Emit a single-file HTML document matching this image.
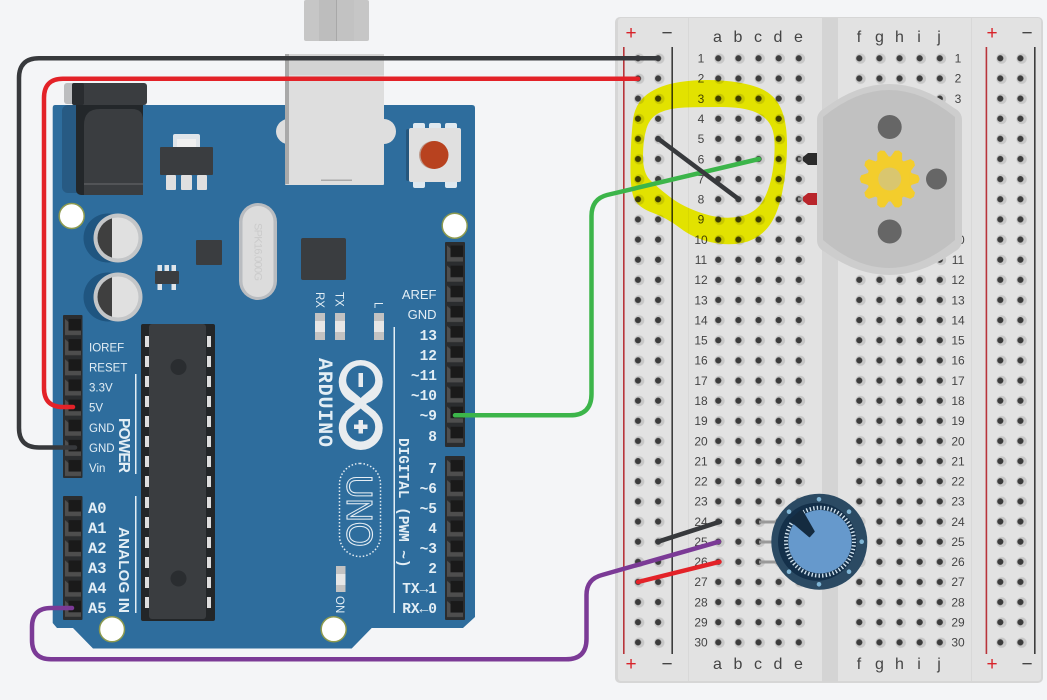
<!DOCTYPE html>
<html><head><meta charset="utf-8"><style>
html,body{margin:0;padding:0;background:#f4f5f7;width:1047px;height:700px;overflow:hidden}
svg{display:block}
.w{fill:none;stroke-linecap:round;stroke-linejoin:round;stroke-width:4.5}
.s{font-family:"Liberation Sans",sans-serif;fill:#e3eef5}
.m{font-family:"Liberation Mono",monospace;font-weight:bold;fill:#e3eef5}
.bb{font-family:"Liberation Sans",sans-serif;fill:#444}
</style></head><body>
<svg width="1047" height="700" viewBox="0 0 1047 700" xmlns="http://www.w3.org/2000/svg">
<defs>
<pattern id="h" width="20.13" height="20.14" patternUnits="userSpaceOnUse"><circle cx="11.2" cy="10.3" r="5.2" fill="#c8c8c8"/><circle cx="10" cy="10" r="3.1" fill="#3c3c3c"/></pattern>
<pattern id="p" width="20" height="20.14" patternUnits="userSpaceOnUse"><polygon points="2,2 5.5,5 5.5,13.5 18,13.5 18,18 2,18" fill="#4e4e4e"/><rect x="5.5" y="2" width="12.5" height="11.5" fill="#1a1a1a"/></pattern>
<polygon id="t" points="20,-6.500 28.500,-3.800 30,0 28.500,3.800 20,6.500" fill="#f3cd2c"/>
</defs>
<rect width="1047" height="700" fill="#f4f5f7"/>

<!-- breadboard -->
<rect x="615" y="17" width="428" height="666" rx="5" fill="#d6d6d6"/>
<rect x="618" y="18" width="423" height="663" rx="3" fill="#e2e2e2"/>
<rect x="688" y="18" width="1" height="663" fill="#d8d8d8"/>
<rect x="971" y="18" width="1" height="663" fill="#d8d8d8"/>
<rect x="822" y="18" width="16" height="664" fill="#d4d4d4"/>
<rect x="623" y="47" width="1.6" height="607" fill="#b8343a"/>
<rect x="671.4" y="47" width="1.6" height="607" fill="#3d3d3d"/>
<rect x="985.6" y="47" width="1.6" height="607" fill="#b8343a"/>
<rect x="1034" y="47" width="1.6" height="607" fill="#3d3d3d"/>
<g transform="translate(628,48.3)"><rect width="40.3" height="604.2" fill="url(#h)"/></g>
<g transform="translate(708.3,48.3)"><rect width="100.7" height="604.2" fill="url(#h)"/></g>
<g transform="translate(849.3,48.3)"><rect width="100.7" height="604.2" fill="url(#h)"/></g>
<g transform="translate(990.3,48.3)"><rect width="40.3" height="604.2" fill="url(#h)"/></g>
<g font-family="Liberation Sans, sans-serif" font-size="19" text-anchor="middle">
<text x="631" y="39" fill="#d8232a">+</text><text x="667" y="39" fill="#444">−</text>
<text x="631" y="670" fill="#d8232a">+</text><text x="667" y="670" fill="#444">−</text>
<text x="992" y="39" fill="#d8232a">+</text><text x="1027" y="39" fill="#444">−</text>
<text x="992" y="670" fill="#d8232a">+</text><text x="1027" y="670" fill="#444">−</text>
</g>
<g class="bb" font-size="16" text-anchor="middle">
<text x="717.5" y="42">a</text><text x="738" y="42">b</text><text x="758" y="42">c</text><text x="778" y="42">d</text><text x="798.5" y="42">e</text>
<text x="859" y="42">f</text><text x="879.5" y="42">g</text><text x="899.5" y="42">h</text><text x="919" y="42">i</text><text x="939" y="42">j</text>
<text x="717.5" y="669">a</text><text x="738" y="669">b</text><text x="758" y="669">c</text><text x="778" y="669">d</text><text x="798.5" y="669">e</text>
<text x="859" y="669">f</text><text x="879.5" y="669">g</text><text x="899.5" y="669">h</text><text x="919" y="669">i</text><text x="939" y="669">j</text>
</g>
<g class="bb" font-size="12" text-anchor="middle">
<text x="701" y="62.6">1</text><text x="701" y="82.7">2</text><text x="701" y="102.9">3</text><text x="701" y="123">4</text><text x="701" y="143.2">5</text><text x="701" y="163.3">6</text><text x="701" y="183.4">7</text><text x="701" y="203.6">8</text><text x="701" y="223.7">9</text><text x="701" y="243.9">10</text><text x="701" y="264">11</text><text x="701" y="284.1">12</text><text x="701" y="304.3">13</text><text x="701" y="324.4">14</text><text x="701" y="344.6">15</text><text x="701" y="364.7">16</text><text x="701" y="384.8">17</text><text x="701" y="405">18</text><text x="701" y="425.1">19</text><text x="701" y="445.3">20</text><text x="701" y="465.4">21</text><text x="701" y="485.5">22</text><text x="701" y="505.7">23</text><text x="701" y="525.8">24</text><text x="701" y="546">25</text><text x="701" y="566.1">26</text><text x="701" y="586.2">27</text><text x="701" y="606.4">28</text><text x="701" y="626.5">29</text><text x="701" y="646.7">30</text>
<text x="958" y="62.6">1</text><text x="958" y="82.7">2</text><text x="958" y="102.9">3</text><text x="958" y="123">4</text><text x="958" y="143.2">5</text><text x="958" y="163.3">6</text><text x="958" y="183.4">7</text><text x="958" y="203.6">8</text><text x="958" y="223.7">9</text><text x="958" y="243.9">10</text><text x="958" y="264">11</text><text x="958" y="284.1">12</text><text x="958" y="304.3">13</text><text x="958" y="324.4">14</text><text x="958" y="344.6">15</text><text x="958" y="364.7">16</text><text x="958" y="384.8">17</text><text x="958" y="405">18</text><text x="958" y="425.1">19</text><text x="958" y="445.3">20</text><text x="958" y="465.4">21</text><text x="958" y="485.5">22</text><text x="958" y="505.7">23</text><text x="958" y="525.8">24</text><text x="958" y="546">25</text><text x="958" y="566.1">26</text><text x="958" y="586.2">27</text><text x="958" y="606.4">28</text><text x="958" y="626.5">29</text><text x="958" y="646.7">30</text>
</g>

<!-- yellow scribble -->
<path style="mix-blend-mode:multiply" fill="#ffff00" fill-rule="evenodd" d="M721.5 80.5 Q743 82 758 87.5 Q773 93 780 106.5 Q787 120 787 145 Q787 170 782 193.5 Q777 217 767 228.5 Q757 240 742 243 Q727 246 710 242 Q693 238 680 228 Q667 218 652 212.5 Q637 207 633.5 197 Q630 187 630.5 162 Q631 137 633 120 Q635 103 647.5 94 Q660 85 680 82 Q700 79 721.5 80.5Z M721.5 107 Q743 107 755 112 Q767 117 771.5 127 Q776 137 774 160 Q772 183 764.5 198 Q757 213 740 216.5 Q723 220 703 213.5 Q683 207 670 197 Q657 187 650 180 Q643 173 643 156.5 Q643 140 646.5 128.5 Q650 117 660 112.5 Q670 108 685 107.5 Q700 107 721.5 107Z"/>

<!-- motor -->
<rect x="798" y="157.5" width="8" height="3" fill="#999"/><polygon points="803,157 808,153 817,153 817,165 808,165 803,161" fill="#2b2b2b"/>
<rect x="798" y="197.5" width="8" height="3" fill="#999"/><polygon points="803,197 808,193 817,193 817,205 808,205 803,201" fill="#b9252b"/>
<path d="M817 120 Q817 112 825 108 Q889 60 954 108 Q962 112 962 120 V240 Q962 248 954 252 Q889 298 825 252 Q817 248 817 240Z" fill="#cdcdcd"/>
<path d="M823 117 Q889 63 955 117 V240 Q889 296 823 240Z" fill="#c1c1c1"/>
<circle cx="889.7" cy="127" r="12" fill="#666"/>
<circle cx="889.7" cy="231.5" r="12" fill="#666"/>
<circle cx="936.5" cy="179" r="10.5" fill="#666"/>
<g transform="translate(889.7,179)">
<circle r="22.5" fill="#f3cd2c"/>
<use href="#t"/><use href="#t" transform="rotate(36)"/><use href="#t" transform="rotate(72)"/><use href="#t" transform="rotate(108)"/><use href="#t" transform="rotate(144)"/><use href="#t" transform="rotate(180)"/><use href="#t" transform="rotate(216)"/><use href="#t" transform="rotate(252)"/><use href="#t" transform="rotate(288)"/><use href="#t" transform="rotate(324)"/>
<circle r="11.5" fill="#d9c66f"/>
</g>

<!-- arduino board -->
<path d="M55 105 H472 Q475 105 475 108 V617 L463 628 H371.7 L351.7 648.5 H93 L73 628 H57 L52.7 623 V108 Q52.7 105 55 105Z" fill="#2e6d9d"/>
<!-- jack -->
<rect x="64" y="83" width="14" height="21" rx="3" fill="#bcbdbf"/>
<rect x="62" y="105" width="70" height="88" rx="6" fill="#275a83"/>
<rect x="76" y="100" width="67" height="95" rx="5" fill="#23272a"/>
<path d="M84 195 V125 Q84 109 100 109 H132 Q143 109 143 120 V195Z" fill="#3a3d40"/>
<rect x="84" y="183.5" width="59" height="1" fill="#6a6c6e"/>
<rect x="72" y="83" width="75" height="22" rx="3" fill="#3a3d40"/>
<rect x="72" y="83" width="12" height="22" rx="2" fill="#292c2f"/>
<!-- regulator -->
<rect x="173" y="134" width="27" height="16" rx="2" fill="#dfe5ea"/>
<rect x="177" y="139" width="19" height="9" fill="#f0f0f0"/>
<rect x="160" y="147" width="53" height="28" rx="1" fill="#3a3d40"/>
<rect x="166" y="175" width="10" height="15" rx="1" fill="#e0e0e0"/><rect x="181" y="175" width="11" height="15" rx="1" fill="#e0e0e0"/><rect x="197" y="175" width="10" height="15" rx="1" fill="#e0e0e0"/>
<!-- holes -->
<g fill="#fff" stroke="#8d9a4f" stroke-width="1.5">
<circle cx="71.7" cy="216" r="12.5"/><circle cx="454.7" cy="225.7" r="12.5"/><circle cx="112" cy="629.3" r="12.5"/><circle cx="333.7" cy="629.3" r="12.5"/>
</g>
<!-- caps -->
<circle cx="108" cy="238" r="24.5" fill="#1f5580"/><circle cx="118" cy="238" r="24.5" fill="#c4c6c8"/>
<circle cx="118" cy="238" r="20.5" fill="#e0e0e0"/><path d="M112 218.4 A20.5 20.5 0 0 0 112 257.6Z" fill="#3f3f3f"/>
<circle cx="108" cy="297" r="24.5" fill="#1f5580"/><circle cx="118" cy="297" r="24.5" fill="#c4c6c8"/>
<circle cx="118" cy="297" r="20.5" fill="#e0e0e0"/><path d="M112 277.4 A20.5 20.5 0 0 0 112 316.6Z" fill="#3f3f3f"/>
<!-- small chips -->
<rect x="196" y="240" width="26" height="25" rx="1" fill="#3a3d40"/>
<g fill="#dfe5ea"><rect x="157.5" y="265" width="4.5" height="7"/><rect x="164.5" y="265" width="4.5" height="7"/><rect x="171.5" y="265" width="4.5" height="7"/><rect x="157.5" y="283" width="4.5" height="7"/><rect x="171.5" y="283" width="4.5" height="7"/></g>
<rect x="155" y="271" width="24" height="13" rx="1" fill="#3a3d40"/>
<!-- crystal -->
<rect x="239" y="203" width="38" height="97" rx="19" fill="#b9bcc0"/>
<rect x="242.5" y="206" width="31" height="91" rx="15.5" fill="#dcdcdc"/>
<text transform="translate(254.5,223) rotate(90)" font-family="Liberation Sans, sans-serif" font-size="11" fill="#cbcbcb" textLength="58">SPK16.000G</text>
<!-- usb -->
<rect x="304" y="0" width="65" height="41" rx="2" fill="#c6c6c6"/>
<rect x="319" y="0" width="17" height="41" fill="#bdbdbd"/><rect x="336" y="0" width="1" height="41" fill="#a8a8a8"/><rect x="337" y="0" width="17" height="41" fill="#c2c2c2"/>
<ellipse cx="290" cy="131.5" rx="14" ry="13" fill="#dedede"/><ellipse cx="384" cy="131.5" rx="12" ry="12.5" fill="#dedede"/>
<rect x="285" y="54" width="99" height="131" rx="1" fill="#dedede"/>
<rect x="285" y="54" width="4" height="130" fill="#a9a9a9"/>
<rect x="289" y="54" width="95" height="21" fill="#d3d3d3"/>
<rect x="321" y="179.5" width="31" height="1.5" fill="#aaa"/>
<!-- reset -->
<g fill="#dfe9f0"><rect x="413" y="123" width="12" height="8" rx="2"/><rect x="429" y="123" width="12" height="8" rx="2"/><rect x="445" y="123" width="12" height="8" rx="2"/><rect x="413" y="180" width="12" height="8" rx="2"/><rect x="445" y="180" width="12" height="8" rx="2"/></g>
<rect x="406" y="129" width="10" height="52" rx="2" fill="#25567c"/>
<rect x="409" y="128" width="52" height="54" rx="2" fill="#e0e0e0"/>
<circle cx="433" cy="155" r="14" fill="#bd9b8d"/><circle cx="434.5" cy="155" r="14" fill="#b8421f"/>
<!-- main square chip -->
<rect x="301" y="238" width="45" height="42" rx="2" fill="#3a3d40"/>
<!-- LEDs -->
<g fill="#c2c2c2"><rect x="315" y="313" width="10" height="27"/><rect x="335" y="313" width="10" height="27"/><rect x="374" y="313" width="10" height="27"/><rect x="336" y="566" width="9.5" height="26"/></g>
<g fill="#e6e6e6"><rect x="315" y="321" width="10" height="11"/><rect x="335" y="321" width="10" height="11"/><rect x="374" y="321" width="10" height="11"/><rect x="336" y="574" width="9.5" height="11"/></g>
<g class="s" font-size="11.5">
<text transform="translate(316,292) rotate(90)">RX</text>
<text transform="translate(335.5,292) rotate(90)">TX</text>
<text transform="translate(374.5,302) rotate(90)">L</text>
<text transform="translate(336,596) rotate(90)">ON</text>
</g>
<!-- big DIP -->
<rect x="141" y="324" width="74" height="297" rx="2" fill="#232628"/>
<rect x="149" y="324" width="57" height="295" rx="3" fill="#3a3d40"/>
<circle cx="178.5" cy="367" r="8" fill="#2a2d30"/><circle cx="178.5" cy="578.5" r="8" fill="#2a2d30"/>
<g fill="#dedede">
<rect x="145" y="336" width="4" height="11"/><rect x="145" y="356" width="4" height="11"/><rect x="145" y="376" width="4" height="11"/><rect x="145" y="396" width="4" height="11"/><rect x="145" y="416" width="4" height="11"/><rect x="145" y="436" width="4" height="11"/><rect x="145" y="456" width="4" height="11"/><rect x="145" y="476" width="4" height="11"/><rect x="145" y="497" width="4" height="11"/><rect x="145" y="517" width="4" height="11"/><rect x="145" y="537" width="4" height="11"/><rect x="145" y="557" width="4" height="11"/><rect x="145" y="577" width="4" height="11"/><rect x="145" y="597" width="4" height="11"/>
<rect x="207" y="336" width="4" height="11"/><rect x="207" y="356" width="4" height="11"/><rect x="207" y="376" width="4" height="11"/><rect x="207" y="396" width="4" height="11"/><rect x="207" y="416" width="4" height="11"/><rect x="207" y="436" width="4" height="11"/><rect x="207" y="456" width="4" height="11"/><rect x="207" y="476" width="4" height="11"/><rect x="207" y="497" width="4" height="11"/><rect x="207" y="517" width="4" height="11"/><rect x="207" y="537" width="4" height="11"/><rect x="207" y="557" width="4" height="11"/><rect x="207" y="577" width="4" height="11"/><rect x="207" y="597" width="4" height="11"/>
</g>
<!-- headers -->
<g fill="#2b2d2f">
<rect x="63" y="315" width="19.5" height="163" rx="1"/><rect x="63" y="496" width="19.5" height="124" rx="1"/>
<rect x="445" y="242" width="20" height="205" rx="1"/><rect x="445" y="456" width="20" height="164" rx="1"/>
</g>
<g transform="translate(63,317)"><rect width="20" height="161.1" fill="url(#p)"/></g>
<g transform="translate(63,498)"><rect width="20" height="120.8" fill="url(#p)"/></g>
<g transform="translate(445,243.5)"><rect width="20" height="201.4" fill="url(#p)"/></g>
<g transform="translate(445,458)"><rect width="20" height="161.1" fill="url(#p)"/></g>
<!-- labels left -->
<g class="s" font-size="11.5">
<text x="89" y="351.5">IOREF</text><text x="89" y="371.5">RESET</text><text x="89" y="391.5">3.3V</text><text x="89" y="411.5">5V</text><text x="89" y="432">GND</text><text x="89" y="452">GND</text><text x="89" y="472">Vin</text>
</g>
<g class="m" font-size="15.5">
<text x="88" y="513">A0</text><text x="88" y="533">A1</text><text x="88" y="553">A2</text><text x="88" y="573">A3</text><text x="88" y="593">A4</text><text x="88" y="613">A5</text>
</g>
<rect x="135" y="374" width="1.5" height="100" fill="#e3eef5"/>
<rect x="135" y="496" width="1.5" height="117" fill="#e3eef5"/>
<text class="s" font-weight="bold" font-size="15.5" transform="translate(119,418) rotate(90)" textLength="55">POWER</text>
<text class="s" font-weight="bold" font-size="15" transform="translate(119,527) rotate(90)" textLength="86">ANALOG IN</text>
<!-- labels right -->
<g class="s" font-size="13" text-anchor="end">
<text x="436.5" y="299">AREF</text><text x="436.5" y="319">GND</text>
</g>
<g class="m" font-size="14.5" text-anchor="end">
<text x="437" y="340">13</text><text x="437" y="360">12</text><text x="437" y="380">~11</text><text x="437" y="400">~10</text><text x="437" y="420">~9</text><text x="437" y="441">8</text>
<text x="437" y="473">7</text><text x="437" y="493">~6</text><text x="437" y="513">~5</text><text x="437" y="533">4</text><text x="437" y="553">~3</text><text x="437" y="573">2</text><text x="437" y="593">TX→1</text><text x="437" y="613">RX←0</text>
</g>
<rect x="393.5" y="327" width="1.5" height="286" fill="#e3eef5"/>
<text class="m" font-size="14.4" transform="translate(399,438) rotate(90)">DIGITAL (PWM ~)</text>
<text class="m" font-size="20" transform="translate(319,358) rotate(90)" textLength="89">ARDUINO</text>
<!-- logo -->
<g fill="#e8ecef">
<circle cx="360.7" cy="382" r="22"/><circle cx="360.7" cy="428" r="22"/>
<polygon points="345,397 355,404 345,412 376,412 366,404 376,397"/>
</g>
<g fill="#2e6d9d">
<path d="M360.7 398 C352 390 346.2 388 346.2 380 A14.5 14.5 0 0 1 375.2 380 C375.2 388 369 390 360.7 398Z"/>
<path d="M360.7 408.5 C369 416 375.2 418 375.2 427 A14.5 14.5 0 0 1 346.2 427 C346.2 418 352 416 360.7 408.5Z"/>
</g>
<rect x="358.5" y="373" width="4.5" height="14" fill="#e8ecef"/>
<rect x="358.5" y="420" width="4.5" height="13.5" fill="#e8ecef"/><rect x="354" y="424.5" width="13.5" height="4.5" fill="#e8ecef"/>
<rect x="339.5" y="463.5" width="41" height="93" rx="20.5" fill="none" stroke="#e6eef4" stroke-width="1.5" stroke-dasharray="1.5 2"/>
<text transform="translate(347,475) rotate(90)" font-family="Liberation Sans, sans-serif" font-size="36" fill="none" stroke="#e6eef4" stroke-width="1.1" textLength="72" lengthAdjust="spacingAndGlyphs">UNO</text>

<!-- pot -->
<g stroke="#999" stroke-width="3" fill="none"><path d="M759 522 H780"/><path d="M759 542 H780"/><path d="M759 562 H780"/></g>
<circle cx="819.3" cy="541.7" r="48" fill="#2b4a63"/>
<circle cx="817" cy="541.7" r="39" fill="#14304a"/>
<circle cx="820" cy="541.7" r="36.5" fill="#14304a"/>
<circle cx="820" cy="541.7" r="34" fill="none" stroke="#cfe0ec" stroke-width="4" stroke-dasharray="1.4 2.16"/>
<circle cx="820" cy="541.7" r="31.7" fill="#6699cc"/>
<polygon points="790,520 801.7,510 814,531.5 809.5,536.5" fill="#142b40" stroke="#142b40" stroke-linejoin="round" stroke-width="1.5"/>
<g fill="#7fb5d5">
<circle cx="819" cy="499.3" r="2.3"/><circle cx="789" cy="511.7" r="2.3"/><circle cx="849" cy="511.7" r="2.3"/><circle cx="861.7" cy="541.7" r="2.3"/><circle cx="819" cy="584.3" r="2.3"/><circle cx="789" cy="571.7" r="2.3"/><circle cx="849" cy="571.7" r="2.3"/>
</g>

<!-- wires -->
<path class="w" stroke="#37393c" d="M658 58.3 H39 Q19 58.3 19 78 V428 Q19 447.5 39 447.5 H75"/>
<path class="w" stroke="#e32228" d="M638 78.7 H63 Q44 78.7 44 98 V388 Q44 407 63 407 H73"/>
<path class="w" stroke="#3cb54a" d="M455 415.3 H570 Q591.5 415.3 591.5 394 V216 Q591.5 199 607 195 L759 159"/>
<path class="w" stroke="#7b3a96" d="M72 608 H51 Q32 608 32 627 V640 Q32 659.3 51 659.3 H566 Q586.5 659.3 586.5 639 V595 Q586.5 579 602 575 L719 541.7"/>
<path class="w" stroke="#37393c" d="M658 541.7 L720 521.7"/>
<path class="w" stroke="#e32228" d="M638 582 L719.5 561.8"/>
<path class="w" stroke="#37393c" d="M657.7 138.3 L739 199.3"/>
</svg>
</body></html>
